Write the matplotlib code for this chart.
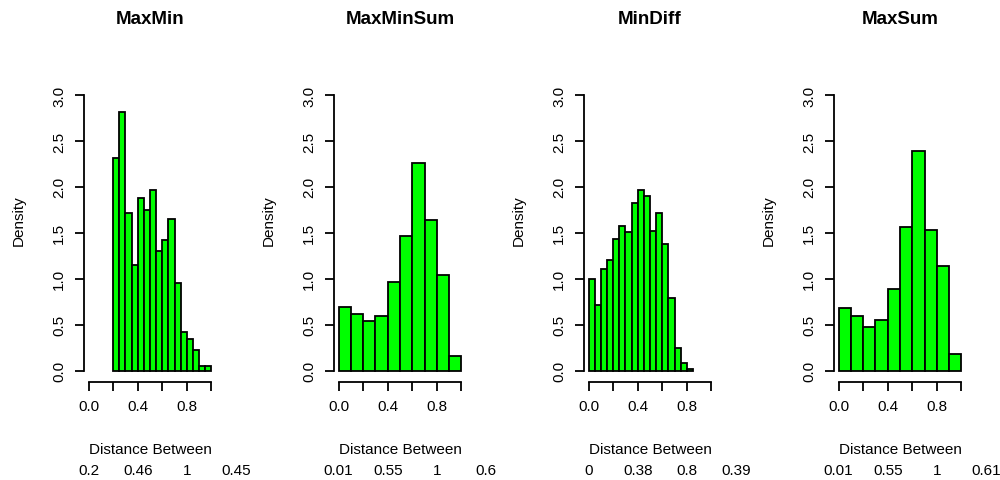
import numpy as np
import matplotlib.pyplot as plt
from matplotlib.transforms import blended_transform_factory

plt.rcParams['font.family'] = ['Liberation Sans', 'DejaVu Sans']

# Panel titles
titles = ['MaxMin', 'MaxMinSum', 'MinDiff', 'MaxSum']

# Histogram densities
maxmin = [2.32, 2.81, 1.72, 1.15, 1.88, 1.75, 1.97, 1.30, 1.42, 1.65,
          0.95, 0.42, 0.35, 0.22, 0.05, 0.05]
maxminsum = [0.69, 0.62, 0.54, 0.60, 0.97, 1.47, 2.26, 1.64, 1.04, 0.16]
mindiff = [1.00, 0.72, 1.11, 1.20, 1.43, 1.57, 1.51, 1.82, 1.97, 1.90,
           1.52, 1.72, 1.38, 0.79, 0.25, 0.08, 0.02]
maxsum = [0.68, 0.60, 0.47, 0.55, 0.89, 1.56, 2.39, 1.53, 1.14, 0.18]
densities = [maxmin, maxminsum, mindiff, maxsum]

# first and last bin edge for each histogram
bin_ranges = [(0.2, 1.0), (0.0, 1.0), (0.0, 0.85), (0.0, 1.0)]

# summary line under each x label (min, mean, max, sd)
summaries = [['0.2', '0.46', '1', '0.45'],
             ['0.01', '0.55', '1', '0.6'],
             ['0', '0.38', '0.8', '0.39'],
             ['0.01', '0.55', '1', '0.61']]
summary_at = [0.0, 0.4, 0.8, 1.2]

xticks = [0.0, 0.2, 0.4, 0.6, 0.8, 1.0]
xticklabels = ['0.0', '', '0.4', '', '0.8', '']
yticks = [0.0, 0.5, 1.0, 1.5, 2.0, 2.5, 3.0]

W, H = 1000, 481
fig = plt.figure(figsize=(10, 4.81), dpi=100)
fig.set_facecolor('white')

for i in range(4):
    x0 = 250 * i
    ax = fig.add_axes([(x0 + 83.6) / W, 1 - 382.7 / H, 132.8 / W, 297.7 / H])

    # Plot the bars
    lo, hi = bin_ranges[i]
    vals = densities[i]
    edges = np.linspace(lo, hi, len(vals) + 1)
    ax.bar(edges[:-1], vals, width=np.diff(edges), align='edge',
           color='#00ff00', edgecolor='black', linewidth=1.3)

    # R style axes: detached, only over the data range
    ax.set_xlim(-0.04, 1.04)
    ax.set_ylim(-0.12, 3.12)
    for s in ['top', 'right']:
        ax.spines[s].set_visible(False)
    ax.spines['left'].set_bounds(0, 3)
    ax.spines['bottom'].set_bounds(0, 1)
    ax.spines['left'].set_linewidth(1.3)
    ax.spines['bottom'].set_linewidth(1.3)

    ax.set_xticks(xticks)
    ax.set_xticklabels(xticklabels)
    ax.set_yticks(yticks)
    ax.set_yticklabels(['%.1f' % v for v in yticks], rotation=90, va='center')
    ax.tick_params(length=6.5, width=1.3, labelsize=11, direction='out')
    ax.tick_params(axis='x', pad=6)
    ax.tick_params(axis='y', pad=6)

    # Labels and title
    cx = (x0 + 150) / W
    fig.text(cx, 1 - 20 / H, titles[i], ha='center', va='center',
             fontsize=13.5, fontweight='bold')
    fig.text(cx, 1 - 450 / H, 'Distance Between', ha='center', va='center',
             fontsize=11)
    fig.text((x0 + 19) / W, 1 - 221 / H, 'Density', ha='center', va='center',
             rotation=90, fontsize=11)

    # Summary numbers under the x label
    trans = blended_transform_factory(ax.transData, fig.transFigure)
    for at, txt in zip(summary_at, summaries[i]):
        ax.text(at, 1 - 471 / H, txt, transform=trans, ha='center',
                va='center', fontsize=11, clip_on=False)

plt.savefig('out.png', dpi=100)
